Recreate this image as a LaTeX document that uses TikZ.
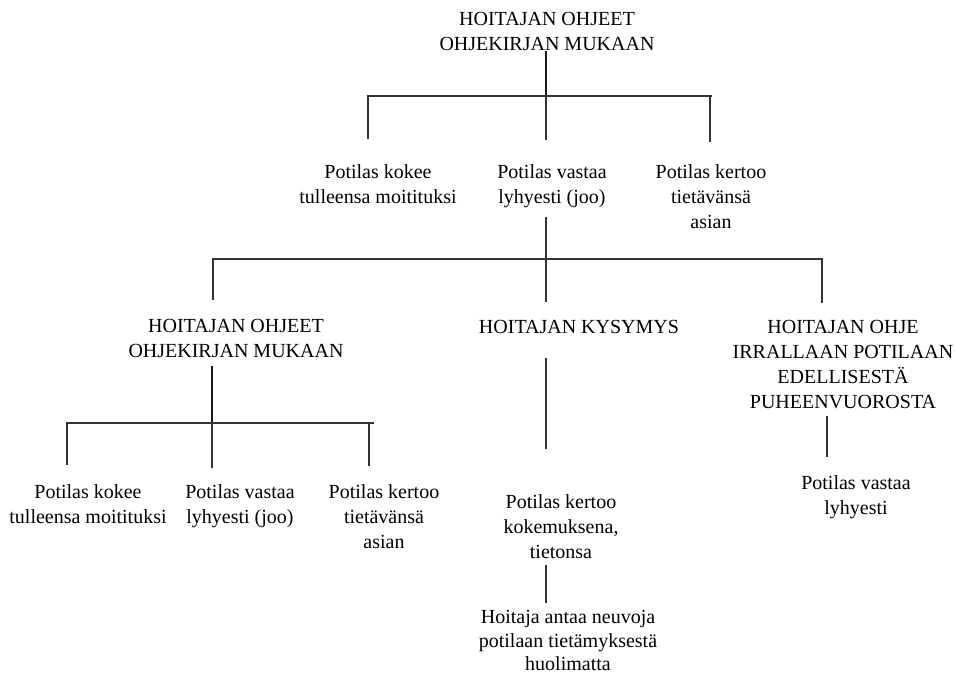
\documentclass[tikz,border=0pt]{standalone}
\usepackage{fontspec}
\setmainfont{Liberation Serif}
% fixed first-line height so every block's north anchor sits 15pt above its first baseline
\newcommand\lnstrut{\rule{0pt}{15pt}}
\begin{document}
\begin{tikzpicture}[x=1pt,y=-1pt,
  txt/.style={align=center, inner sep=0pt, anchor=north,
              font=\rmfamily\fontsize{20}{25}\selectfont},
  stem/.style={line width=1.1pt, draw=black!90},
  bar/.style={line width=1.9pt, draw=black!80},
]
\useasboundingbox (0,0) rectangle (956,676);

% ---------- text blocks ----------
\node[txt] (root) at (547,10.6) {\lnstrut HOITAJAN OHJEET\\OHJEKIRJAN MUKAAN};

\node[txt] (k1) at (378,163.5) {\lnstrut Potilas kokee\\tulleensa moitituksi};
\node[txt] (k2) at (552,163.5) {\lnstrut Potilas vastaa\\lyhyesti (joo)};
\node[txt] (k3) at (711,163.5) {\lnstrut Potilas kertoo\\tietävänsä\\asian};

\node[txt] (L) at (236,317.6) {\lnstrut HOITAJAN OHJEET\\OHJEKIRJAN MUKAAN};
\node[txt] (M) at (579,318.6) {\lnstrut HOITAJAN KYSYMYS};
\node[txt] (R) at (843,318.6) {\lnstrut HOITAJAN OHJE\\IRRALLAAN POTILAAN\\EDELLISESTÄ\\PUHEENVUOROSTA};

\node[txt] (l1) at (88,483.5)  {\lnstrut Potilas kokee\\tulleensa moitituksi};
\node[txt] (l2) at (240,483.5) {\lnstrut Potilas vastaa\\lyhyesti (joo)};
\node[txt] (l3) at (384,483.5) {\lnstrut Potilas kertoo\\tietävänsä\\asian};

\node[txt] (m1) at (561,493.5) {\lnstrut Potilas kertoo\\kokemuksena,\\tietonsa};
\node[txt, font=\rmfamily\fontsize{20}{23.5}\selectfont] (m2) at (568,608.5)
  {\lnstrut Hoitaja antaa neuvoja\\potilaan tietämyksestä\\huolimatta};

\node[txt] (r1) at (856,474.5) {\lnstrut Potilas vastaa\\lyhyesti};

% ---------- first branching ----------
\coordinate (j1) at (546,96);
\coordinate (e11) at (368,139);
\coordinate (e12) at (546,140);
\coordinate (e13) at (710,142);
\draw[stem] (root.south -| j1) -- (j1);
\draw[bar] (e11) -- (e11 |- j1) -- ([xshift=2pt]e13 |- j1);
\draw[bar] (e13 |- j1) -- (e13);
\draw[bar] (j1) -- (e12);

% ---------- second branching ----------
\coordinate (j2) at (546,259);
\coordinate (e21) at (213,300);
\coordinate (e22) at (546,302);
\coordinate (e23) at (822,303);
\draw[bar, line width=1.5pt, shorten <=9pt] (k2.south -| j2) -- (j2);
\draw[bar] (e21) -- (e21 |- j2) -- ([xshift=1pt]e23 |- j2);
\draw[bar] (e23 |- j2) -- (e23);
\draw[bar] (j2) -- (e22);

% ---------- third branching ----------
\coordinate (j3) at (212,423);
\coordinate (e31) at (67,465);
\coordinate (e32) at (212,468);
\coordinate (e33) at (369,466);
\draw[stem, shorten <=8pt] (L.south -| j3) -- (j3);
\draw[bar] (e31) -- (e31 |- j3) -- ([xshift=5pt]e33 |- j3);
\draw[bar] (e33 |- j3) -- (e33);
\draw[bar] (j3) -- (e32);

% ---------- middle chain ----------
\coordinate (xm) at (546,0);
\draw[bar, line width=1.6pt, shorten <=24pt, shorten >=44.5pt] (M.south -| xm) -- (m1.north -| xm);
\draw[bar, line width=1.6pt, shorten <=5.5pt, shorten >=6pt] (m1.south -| xm) -- (m2.north -| xm);

% ---------- right chain ----------
\coordinate (xr) at (827,0);
\draw[bar, line width=1.6pt, shorten <=6.4pt, shorten >=17.5pt] (R.south -| xr) -- (r1.north -| xr);
\end{tikzpicture}
\end{document}
